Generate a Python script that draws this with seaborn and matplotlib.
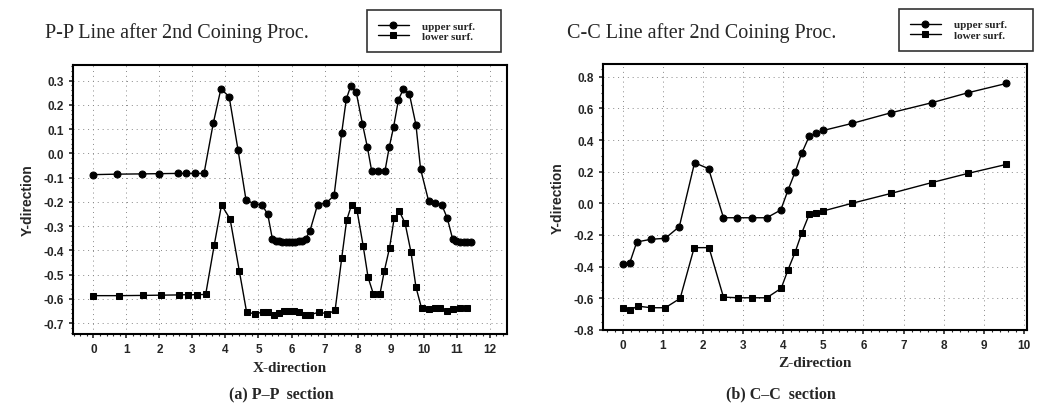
import pandas as pd
import matplotlib
matplotlib.use("Agg")
import matplotlib.pyplot as plt
import seaborn as sns

# P-P section (X-direction)
pp_upper_x = [0, 0.72, 1.46, 2.0, 2.55, 2.8, 3.08, 3.35, 3.63, 3.86, 4.11, 4.38, 4.62, 4.86, 5.10, 5.28,
              5.42, 5.52, 5.62, 5.72, 5.82, 5.92, 6.02, 6.12, 6.22, 6.32, 6.43,
              6.56, 6.79, 7.05, 7.29, 7.52, 7.66, 7.79, 7.96, 8.15, 8.30,
              8.43, 8.63, 8.83, 8.96, 9.09, 9.24, 9.39, 9.57, 9.77, 9.91,
              10.15, 10.35, 10.55, 10.72, 10.88, 10.98, 11.1, 11.23, 11.33, 11.43]
pp_upper_y = [-0.088, -0.086, -0.085, -0.084, -0.083, -0.083, -0.083, -0.083,
              0.124, 0.265, 0.234, 0.014, -0.191, -0.209, -0.212, -0.251,
              -0.353, -0.360, -0.363, -0.365, -0.366, -0.366, -0.366, -0.365, -0.363, -0.360, -0.353,
              -0.319, -0.212, -0.205, -0.174, 0.084, 0.224, 0.276, 0.251, 0.121, 0.024,
              -0.074, -0.074, -0.074, 0.025, 0.107, 0.221, 0.265, 0.245, 0.117, -0.065,
              -0.195, -0.205, -0.212, -0.268, -0.353, -0.363, -0.364, -0.364, -0.364, -0.364]
pp_lower_x = [0, 0.78, 1.51, 2.04, 2.59, 2.85, 3.13, 3.40,
              3.66, 3.88, 4.14, 4.42, 4.64, 4.89, 5.13, 5.30,
              5.47, 5.63, 5.77, 5.92, 6.08, 6.24, 6.41, 6.56,
              6.83, 7.09, 7.32, 7.52, 7.67, 7.82, 7.98,
              8.17, 8.32, 8.48, 8.68, 8.81, 8.97,
              9.11, 9.27, 9.44, 9.62, 9.77, 9.94,
              10.15, 10.35, 10.50, 10.72, 10.90, 11.10, 11.31]
pp_lower_y = [-0.587, -0.587, -0.586, -0.585, -0.584, -0.583, -0.583, -0.582,
              -0.378, -0.213, -0.271, -0.486, -0.655, -0.662, -0.655, -0.655,
              -0.666, -0.658, -0.652, -0.650, -0.651, -0.655, -0.666, -0.666,
              -0.655, -0.662, -0.648, -0.433, -0.277, -0.212, -0.232,
              -0.381, -0.512, -0.580, -0.580, -0.486, -0.390,
              -0.268, -0.240, -0.288, -0.408, -0.552, -0.639,
              -0.641, -0.639, -0.637, -0.652, -0.641, -0.639, -0.639]

# C-C section (Z-direction)
cc_upper_x = [0, 0.17, 0.35, 0.71, 1.06, 1.41, 1.79, 2.14, 2.51, 2.86, 3.23, 3.59,
              3.94, 4.12, 4.30, 4.46, 4.65, 4.82, 5.00, 5.71, 6.69, 7.70, 8.60, 9.56]
cc_upper_y = [-0.385, -0.379, -0.244, -0.227, -0.221, -0.147, 0.257, 0.219, -0.091, -0.091, -0.091, -0.091,
              -0.042, 0.084, 0.200, 0.316, 0.425, 0.442, 0.461, 0.505, 0.573, 0.636, 0.699, 0.758]
cc_lower_x = [0, 0.18, 0.37, 0.71, 1.06, 1.43, 1.78, 2.15, 2.51, 2.88, 3.23, 3.59,
              3.95, 4.12, 4.30, 4.46, 4.65, 4.82, 5.00, 5.71, 6.69, 7.70, 8.60, 9.56]
cc_lower_y = [-0.660, -0.675, -0.650, -0.660, -0.660, -0.601, -0.280, -0.280, -0.593, -0.597, -0.597, -0.597,
              -0.537, -0.420, -0.307, -0.189, -0.069, -0.059, -0.048, 0.0, 0.063, 0.131, 0.189, 0.246]

series_labels = ["upper surf.", "lower surf."]

sns.set_style("ticks")
plt.rcParams['font.family'] = ['Liberation Serif', 'DejaVu Serif']
plt.rcParams['axes.unicode_minus'] = False

fig = plt.figure(figsize=(10.41, 4.10), dpi=100)
ax1 = fig.add_axes([0.0701, 0.183, 0.417, 0.656])
ax2 = fig.add_axes([0.579, 0.193, 0.4076, 0.648])


def draw(ax, ux, uy, lx, ly):
    up = pd.DataFrame({'x': ux, 'y': uy})
    lo = pd.DataFrame({'x': lx, 'y': ly})
    sns.lineplot(data=up, x='x', y='y', ax=ax, color='black', marker='o', markersize=5,
                 markeredgecolor='black', linewidth=1.0, estimator=None, label=series_labels[0])
    sns.lineplot(data=lo, x='x', y='y', ax=ax, color='black', marker='s', markersize=4.6,
                 markeredgecolor='black', linewidth=1.0, estimator=None, label=series_labels[1])
    ax.grid(True, linestyle=(0, (1, 4)), color='#888888', linewidth=0.7)
    for s in ax.spines.values():
        s.set_linewidth(1.5)
        s.set_color('black')
    ax.minorticks_on()
    ax.tick_params(axis='both', which='major', labelsize=8.5, width=1.2, length=3, direction='out')
    ax.tick_params(axis='both', which='minor', width=0.8, length=1.5, direction='out')
    ax.get_legend().remove()


draw(ax1, pp_upper_x, pp_upper_y, pp_lower_x, pp_lower_y)
ax1.set_xlim(-0.62, 12.53)
ax1.set_ylim(-0.745, 0.364)
ax1.set_xticks(range(0, 13))
ax1.set_yticks([0.3, 0.2, 0.1, 0.0, -0.1, -0.2, -0.3, -0.4, -0.5, -0.6, -0.7])
ax1.set_yticklabels([f"{v:.1f}" for v in ax1.get_yticks()], fontweight='bold', family='Liberation Sans')
ax1.set_xticklabels([str(v) for v in range(0, 13)], fontweight='bold', family='Liberation Sans')
ax1.set_xlabel('X-direction', fontsize=11, fontweight='bold', labelpad=4)
ax1.set_ylabel('Y-direction', fontsize=10, fontweight='bold', family='Liberation Sans', labelpad=6)

draw(ax2, cc_upper_x, cc_upper_y, cc_lower_x, cc_lower_y)
ax2.set_xlim(-0.5, 10.08)
ax2.set_ylim(-0.80, 0.88)
ax2.set_xticks(range(0, 11))
ax2.set_yticks([0.8, 0.6, 0.4, 0.2, 0.0, -0.2, -0.4, -0.6, -0.8])
ax2.set_yticklabels([f"{v:.1f}" for v in ax2.get_yticks()], fontweight='bold', family='Liberation Sans')
ax2.set_xticklabels([str(v) for v in range(0, 11)], fontweight='bold', family='Liberation Sans')
ax2.set_xlabel('Z-direction', fontsize=11, fontweight='bold', labelpad=4)
ax2.set_ylabel('Y-direction', fontsize=10, fontweight='bold', family='Liberation Sans', labelpad=6)

# titles
fig.text(0.043, 0.92, 'P-P Line after 2nd Coining Proc.', fontsize=14.5, va='center', ha='left')
fig.text(0.545, 0.92, 'C-C Line after 2nd Coining Proc.', fontsize=14.5, va='center', ha='left')

# legends in boxes above the axes
for ax, box in [(ax1, (0.347, 0.856, 0.14, 0.132)), (ax2, (0.858, 0.859, 0.14, 0.132))]:
    h, l = ax.get_legend_handles_labels()
    leg = fig.legend(h, l, loc='center', bbox_to_anchor=box, mode='expand', frameon=True,
                     fancybox=False, edgecolor='black', handlelength=2.8, handletextpad=1.2,
                     prop={'weight': 'bold', 'size': 8}, borderpad=1.0, labelspacing=0.05)
    leg.get_frame().set_linewidth(1.2)

# captions
fig.text(0.27, 0.037, '(a) P\u2013P  section', fontsize=11.5, fontweight='bold', ha='center', va='center')
fig.text(0.75, 0.037, '(b) C\u2013C  section', fontsize=11.5, fontweight='bold', ha='center', va='center')

fig.savefig('out.png', dpi=100)
plt.close(fig)
